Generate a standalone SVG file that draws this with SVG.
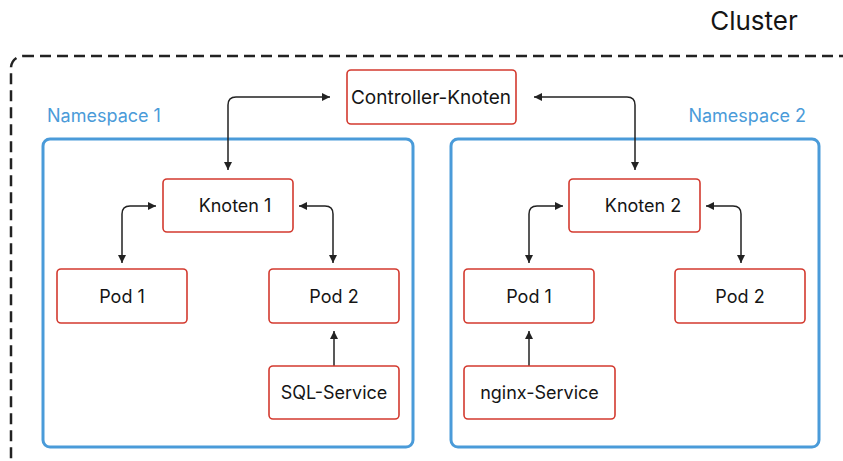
<svg xmlns="http://www.w3.org/2000/svg" width="843" height="461" viewBox="0 0 843 461">
<defs>
<marker id="ah" viewBox="0 0 10 10" refX="10" refY="5" markerWidth="8" markerHeight="8" markerUnits="userSpaceOnUse" orient="auto-start-reverse">
<path d="M0,0 L10,5 L0,10 z" fill="#222"/>
</marker>
<style>
.node rect{fill:#fff;stroke:#d33a2f;stroke-width:1.6}
.node text{font-family:Inter,"Liberation Sans",sans-serif;font-size:18px;fill:#151515;text-anchor:middle}
.ns{fill:none;stroke:#4a9bd9;stroke-width:3}
.nslabel{font-family:Inter,"Liberation Sans",sans-serif;font-size:18px;fill:#4a9bd9}
.conn path{fill:none;stroke:#222;stroke-width:1.5}
</style>
</defs>
<rect width="843" height="461" fill="#fff"/>
<g id="cluster">
<rect x="11" y="56" width="900" height="420" rx="12" fill="none" stroke="#222" stroke-width="2.5" stroke-dasharray="11 6"/>
<text x="754" y="30" text-anchor="middle" font-family="Inter,'Liberation Sans',sans-serif" font-size="26" fill="#151515">Cluster</text>
</g>
<g id="namespace1">
<rect class="ns" x="43" y="139" width="370" height="308" rx="7"/>
<text class="nslabel" x="47" y="122">Namespace 1</text>
</g>
<g id="namespace2">
<rect class="ns" x="451" y="139" width="368" height="308" rx="7"/>
<text class="nslabel" x="806" y="122" text-anchor="end">Namespace 2</text>
</g>
<g class="conn" id="connectors">
<path d="M228,170 V105 Q228,97 236,97 H330" marker-start="url(#ah)" marker-end="url(#ah)"/>
<path d="M635,170 V105 Q635,97 627,97 H534" marker-start="url(#ah)" marker-end="url(#ah)"/>
<path d="M122,263 V214 Q122,206 130,206 H156" marker-start="url(#ah)" marker-end="url(#ah)"/>
<path d="M333,263 V214 Q333,206 325,206 H299" marker-start="url(#ah)" marker-end="url(#ah)"/>
<path d="M529,263 V214 Q529,206 537,206 H563" marker-start="url(#ah)" marker-end="url(#ah)"/>
<path d="M741,263 V214 Q741,206 733,206 H706" marker-start="url(#ah)" marker-end="url(#ah)"/>
<path d="M334,366 V331" marker-end="url(#ah)"/>
<path d="M529,366 V331" marker-end="url(#ah)"/>
</g>
<g class="node" id="controller">
<rect x="347" y="70" width="169" height="54" rx="4"/>
<text x="431" y="104" style="font-size:19px">Controller-Knoten</text>
</g>
<g class="node" id="knoten1">
<rect x="163" y="179" width="130" height="53" rx="4"/>
<text x="235" y="212">Knoten 1</text>
</g>
<g class="node" id="knoten2">
<rect x="569" y="179" width="131" height="53" rx="4"/>
<text x="643" y="212">Knoten 2</text>
</g>
<g class="node" id="pod1a">
<rect x="57" y="269" width="130" height="54" rx="4"/>
<text x="122" y="303">Pod 1</text>
</g>
<g class="node" id="pod2a">
<rect x="269" y="269" width="130" height="54" rx="4"/>
<text x="334" y="303">Pod 2</text>
</g>
<g class="node" id="sql">
<rect x="269" y="366" width="130" height="53" rx="4"/>
<text x="334" y="399">SQL-Service</text>
</g>
<g class="node" id="pod1b">
<rect x="464" y="269" width="130" height="54" rx="4"/>
<text x="529" y="303">Pod 1</text>
</g>
<g class="node" id="pod2b">
<rect x="675" y="269" width="130" height="54" rx="4"/>
<text x="740" y="303">Pod 2</text>
</g>
<g class="node" id="nginx">
<rect x="464" y="366" width="151" height="53" rx="4"/>
<text x="539.5" y="399">nginx-Service</text>
</g>
</svg>
